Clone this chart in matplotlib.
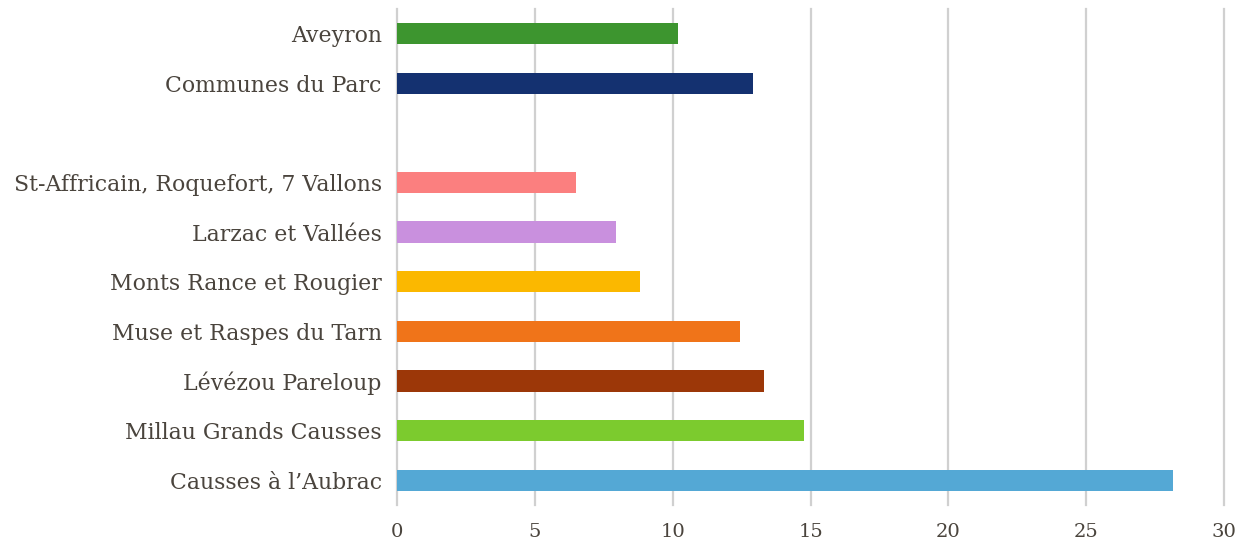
import numpy as np
import matplotlib.pyplot as plt

# top-to-bottom order, None = empty row between groups
labels = ["Aveyron", "Communes du Parc", None,
          "St-Affricain, Roquefort, 7 Vallons", "Larzac et Vallées",
          "Monts Rance et Rougier", "Muse et Raspes du Tarn",
          "Lévézou Pareloup", "Millau Grands Causses", "Causses à l\u2019Aubrac"]
values = [10.2, 12.9, None, 6.5, 7.95, 8.8, 12.45, 13.3, 14.75, 28.15]
colors = ["#3d952f", "#143170", None, "#fb7f7f", "#c990de", "#fbb800",
          "#f07419", "#9c3708", "#7ccb2e", "#54a8d5"]

text_col = "#4a443d"

fig = plt.figure(figsize=(12.38, 5.44), dpi=100)
ax = fig.add_axes([0.3207, 0.0717, 0.668, 0.912])

n = len(labels)
pos = [n - 1 - i for i in range(n)]
keep = [i for i in range(n) if labels[i] is not None]

ax.barh([pos[i] for i in keep], [values[i] for i in keep], height=0.43,
        color=[colors[i] for i in keep], zorder=3)

ax.set_yticks([pos[i] for i in keep])
ax.set_yticklabels([labels[i] for i in keep], family="DejaVu Serif",
                   fontsize=15.8, color=text_col)
ax.set_ylim(-0.5, n - 0.5)

ax.set_xlim(0, 30)
ax.set_xticks(np.arange(0, 31, 5))
ax.tick_params(axis="x", labelsize=14, labelcolor=text_col, length=0, pad=13)
ax.tick_params(axis="y", length=0, pad=11)
for lab in ax.get_xticklabels():
    lab.set_family("DejaVu Serif")

ax.grid(axis="x", color="#d0d0d0", linewidth=1.6, zorder=0)
for gl in ax.get_xgridlines():
    gl.set_clip_on(False)
ax.set_axisbelow(True)
for s in ax.spines.values():
    s.set_visible(False)

fig.savefig("out.png", dpi=100)
